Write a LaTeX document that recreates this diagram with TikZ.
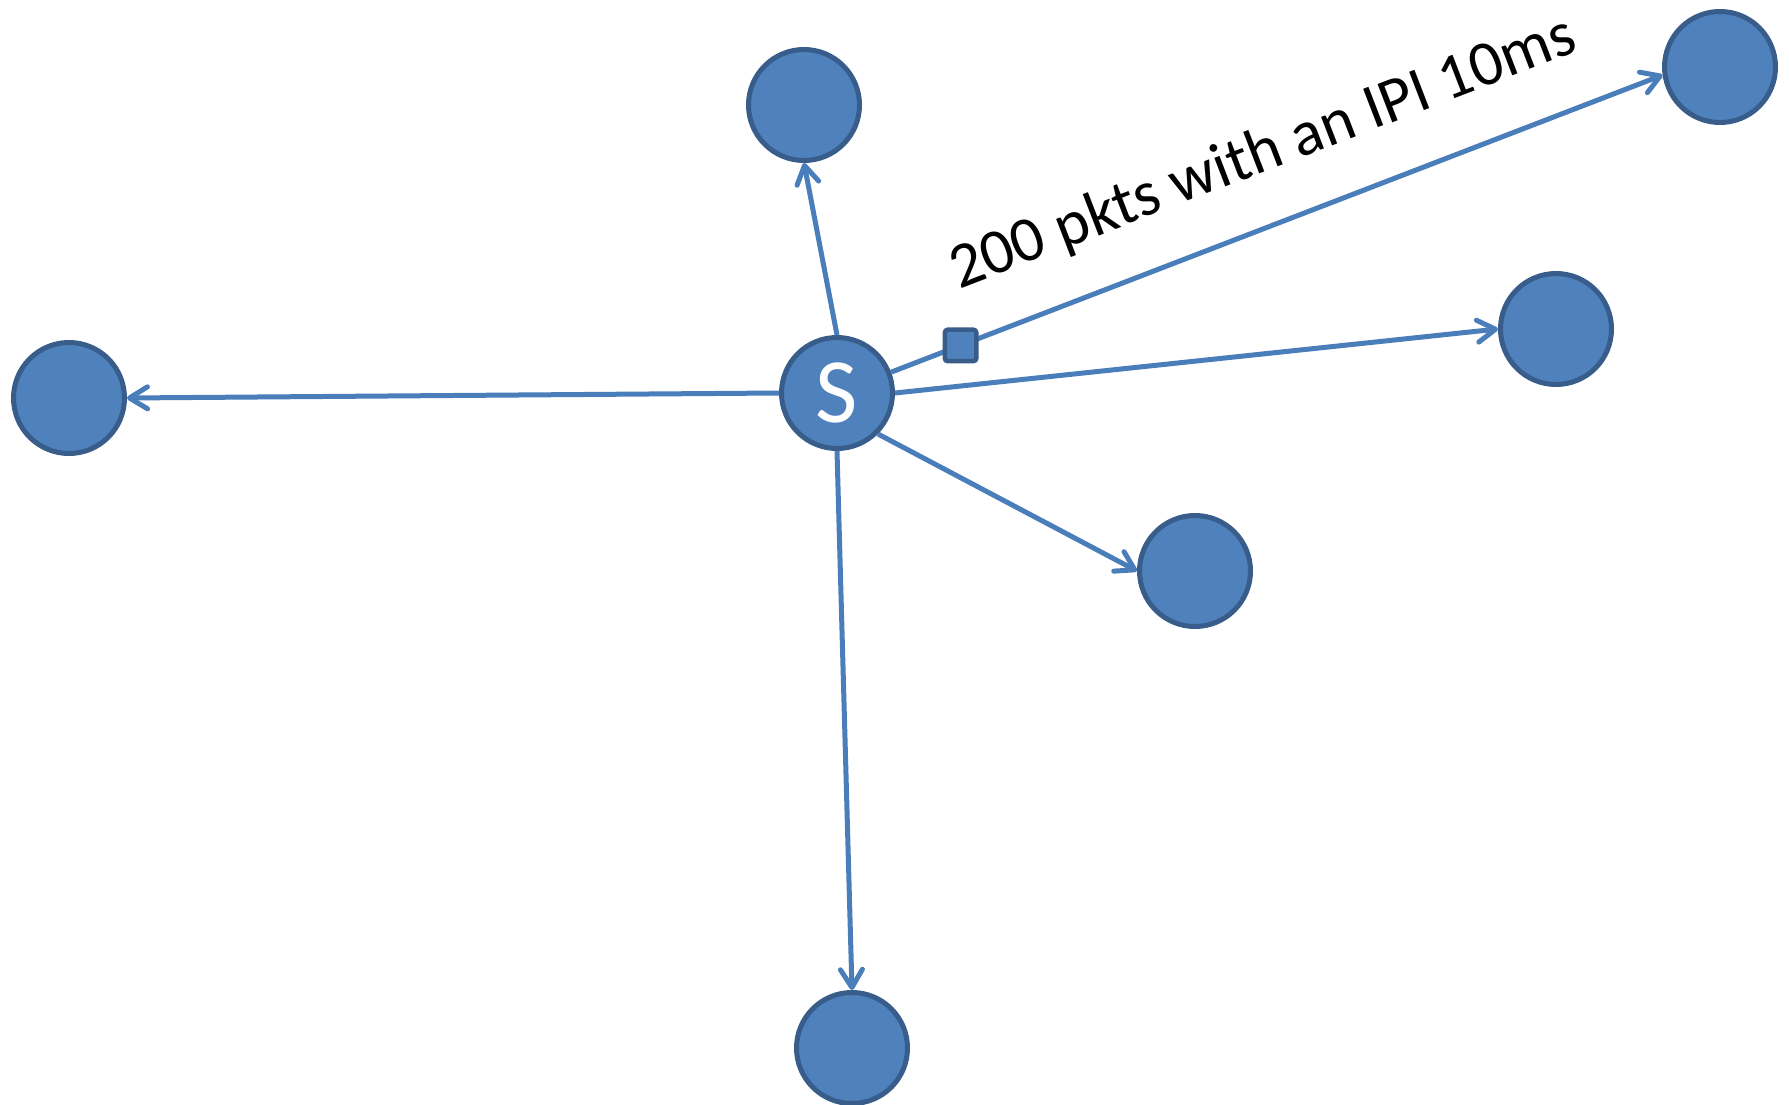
\documentclass[tikz,border=0pt]{standalone}
\usepackage{fontspec}
\setmainfont{Carlito}
\usetikzlibrary{arrows.meta}
\definecolor{nodefill}{HTML}{4F81BD}
\definecolor{nodeline}{HTML}{385D8A}
\definecolor{linkblue}{HTML}{4A7EBB}
\begin{document}
\begin{tikzpicture}[x=1pt,y=-1pt,
  host/.style={circle, fill=nodefill, draw=nodeline, line width=5pt,
    minimum size=111pt, inner sep=0pt},
  pkt/.style={rectangle, rounded corners=3pt, fill=nodefill, draw=nodeline,
    line width=4.5pt, minimum size=31.5pt, inner sep=0pt},
  link/.style={draw=linkblue, line width=5pt,
    -{Straight Barb[length=18pt,width=22pt,round]}},
  flowlabel/.style={font=\fontsize{64pt}{70pt}\selectfont, text=black, inner sep=0pt}]
  \useasboundingbox (0,0) rectangle (1789,1105);

  % hosts
  \node[host, font=\fontsize{92pt}{96pt}\selectfont, text=white] (S) at (837,393) {S};
  \node[host] (top)   at (804,105)  {};
  \node[host] (far)   at (1720,67)  {};
  \node[host] (right) at (1556,329) {};
  \node[host] (left)  at (69,398)   {};
  \node[host] (mid)   at (1195,571) {};
  \node[host] (bot)   at (852,1048) {};

  % links from the source, attached at the circles' connection points
  \draw[link] (S.north) -- (top.south);
  \draw[link] (S.east) -- (right.west);
  \draw[link] (S.west) -- (left.east);
  \draw[link] (S.south east) -- (mid.west);
  \draw[link] (S.south) -- (bot.north);
  \draw[link] (S) -- node[pkt, pos=0.09] (p) {}
    node[flowlabel, sloped, pos=0.515, above=40pt] (lbl) {200 pkts with an IPI 10ms} (far.188);
\end{tikzpicture}
\end{document}
